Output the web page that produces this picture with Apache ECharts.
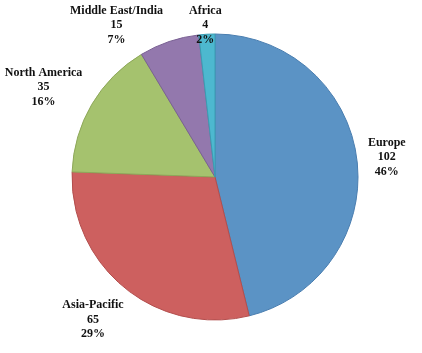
<!DOCTYPE html>
<html style="height: 100%">
<head>
	<meta charset="utf-8">
</head>
<body style="height: 100%; margin: 0; background: #fff">
<div id="container" style="width: 422px; height: 353px"></div>
<script type="text/javascript" src="https://cdn.jsdelivr.net/npm/echarts@6/dist/echarts.min.js"></script>
<script type="text/javascript">
    var regions = ['Europe', 'Asia-Pacific', 'North America', 'Middle East/India', 'Africa'];
    var values = [102, 65, 35, 15, 4];
    var fills = ['#5b93c5', '#cd605f', '#a5c26e', '#9378ad', '#4db8cf'];
    var borders = ['#4a7eb0', '#b34e4d', '#8ea85a', '#7a6194', '#3a9db3'];

    var W = 422, H = 353;
    var cx = 215, cy = 177, R = 143;
    var gap = 11, lineH = 14.5;
    var labelFont = 'bold 12px "Liberation Serif", serif';

    var dom = document.getElementById("container");
    var myChart = echarts.init(dom);

    var total = values.reduce(function (a, b) { return a + b; }, 0);

    // label text lines, same as the formatter below
    function pct(v) { return Math.round(v / total * 100) + '%'; }

    // place each label box outside the slice, like the "outside end" labels of the original
    var ctx = document.createElement('canvas').getContext('2d');
    ctx.font = labelFont;
    var boxes = [];
    var acc = 0;
    values.forEach(function (v, i) {
        var mid = (acc + v / 2) / total * 2 * Math.PI;
        acc += v;
        var s = Math.sin(mid), c = -Math.cos(mid);
        var lines = [regions[i], String(v), pct(v)];
        var w = Math.max.apply(null, lines.map(function (t) { return ctx.measureText(t).width; }));
        var h = lines.length * lineH;
        var m = Math.max(Math.abs(s), Math.abs(c));
        var px = cx + (R + gap) * s, py = cy + (R + gap) * c;
        var x = px + w / 2 * s / m, y = py + h / 2 * c / m;
        x = Math.min(Math.max(x, w / 2 + 2), W - w / 2 - 2);
        y = Math.min(Math.max(y, h / 2 + 2), H - h / 2 - 2) + 1.5;
        boxes.push({x: x, y: y, w: w, h: h, dir: s < 0 ? -1 : 1});
    });
    // push overlapping neighbours apart
    for (var i = boxes.length - 2; i >= 0; i--) {
        var a = boxes[i], b = boxes[i + 1];
        var overlapX = (a.w + b.w) / 2 + 26 - Math.abs(a.x - b.x);
        var overlapY = (a.h + b.h) / 2 - Math.abs(a.y - b.y);
        if (overlapX > 0 && overlapY > 0) {
            a.x += a.dir * overlapX;
        }
    }

    var data = regions.map(function (name, i) {
        return {
            name: name,
            value: values[i],
            itemStyle: {color: fills[i], borderColor: borders[i], borderWidth: 1}
        };
    });

    var option = {
        backgroundColor: '#fff',
        animation: false,
        series: [{
            type: 'pie',
            center: [cx, cy],
            radius: R,
            startAngle: 90,
            clockwise: true,
            percentPrecision: 0,
            data: data,
            label: {
                position: 'outside',
                overflow: 'none',
                formatter: '{t|{b}}\n{t|{c}}\n{t|{d}%}',
                rich: {
                    t: {
                        align: 'center',
                        fontFamily: '"Liberation Serif", serif',
                        fontWeight: 'bold',
                        fontSize: 12,
                        lineHeight: lineH,
                        color: '#111'
                    }
                }
            },
            labelLine: {show: false},
            labelLayout: function (params) {
                var b = boxes[params.dataIndex];
                return {x: b.x, y: b.y, align: 'center', verticalAlign: 'middle', hideOverlap: false};
            }
        }]
    };
    myChart.setOption(option);
</script>
</body>
</html>
